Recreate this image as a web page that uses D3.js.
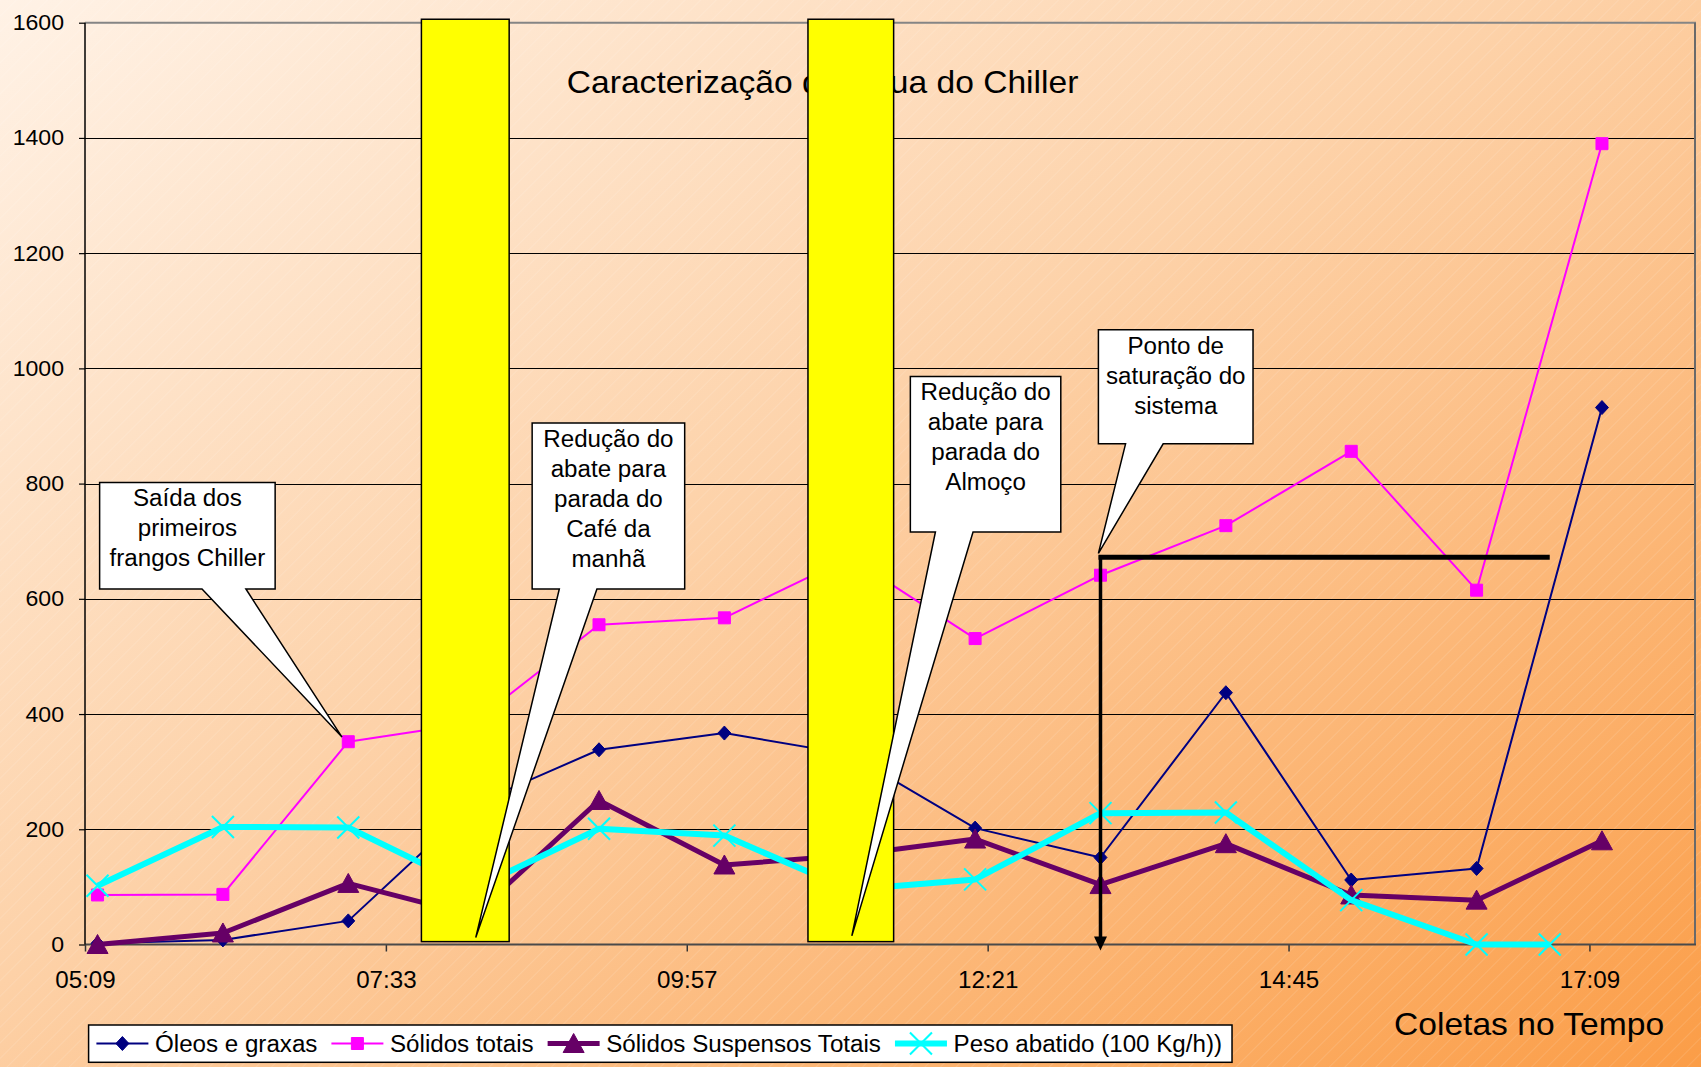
<!DOCTYPE html>
<html>
<head>
<meta charset="utf-8">
<script src="https://cdn.jsdelivr.net/npm/d3@7"></script>
<style>
  html, body { margin: 0; padding: 0; background: #fff; }
  svg { display: block; font-family: "Liberation Sans", Arial, sans-serif; }
</style>
</head>
<body>
<svg id="chart" width="1701" height="1067"></svg>
<script>
// ---- Data -----------------------------------------------------------------
// Hourly collections of chiller water
const sampleTimes = ["05:15","06:15","07:15","08:15","09:15","10:15","11:15",
                     "12:15","13:15","14:15","15:15","16:15","17:15"];
const oleosGraxas      = [2, 8, 41, 243, 338, 367, 330, 202, 151, 437, 112, 132, 932];
const solidosTotais    = [86, 87, 352, 385, 555, 567, 672, 531, 641, 727, 856, 615, 1390];
const solidosSuspensos = [0, 20, 106, 50, 250, 138, 155, 183, 104, 175, 86, 77, 180];

// Slaughter weight (100 kg/h) has its own last reading time
const pesoTimes   = ["05:15","06:15","07:15","08:15","09:15","10:15","11:15",
                     "12:15","13:15","14:15","15:15","16:15","16:50"];
const pesoAbatido = [102, 204, 203, 97, 201, 189, 95, 113, 228, 229, 77, 0, 0];

const seriesNames = ["Óleos e graxas", "Sólidos totais",
                     "Sólidos Suspensos Totais", "Peso abatido (100 Kg/h))"];

// Axes
const yTickValues = [0, 200, 400, 600, 800, 1000, 1200, 1400, 1600];
const xTickLabels = ["05:09", "07:33", "09:57", "12:21", "14:45", "17:09"];
const xDomain = ["05:09", "18:00"];
const yDomain = [0, 1600];

// Production stops (highlighted intervals)
const pauseStarts = ["07:50", "10:55"];
const pauseEnds   = ["08:32", "11:36"];

// Saturation marker: time, level and end of the horizontal reference
const saturationTime = "13:15";
const saturationLevel = 672;
const saturationEnd = "16:50";

const chartTitle = "Caracterização da Água do Chiller";
const titleCenterTime = "11:02";
const xAxisTitle = "Coletas no Tempo";

// Callouts: text lines plus anchors in chart units (time, value)
const callouts = [
  { lines: ["Saída dos", "primeiros", "frangos Chiller"],
    box: ["05:16", "06:40", 802, 617], base: ["06:05", "06:26"], tip: ["07:12", 360] },
  { lines: ["Redução do", "abate para", "parada do", "Café da", "manhã"],
    box: ["08:43", "09:56", 905, 617], base: ["08:56", "09:14"], tip: ["08:16", 12] },
  { lines: ["Redução do", "abate para", "parada do", "Almoço"],
    box: ["11:44", "12:56", 986, 716], base: ["11:56", "12:14"], tip: ["11:16", 15] },
  { lines: ["Ponto de", "saturação do", "sistema"],
    box: ["13:14", "14:28", 1067, 869], base: ["13:27", "13:45"], tip: ["13:14", 679] }
];

// ---- Helpers --------------------------------------------------------------
const toMin = s => { const [h, m] = s.split(":").map(Number); return h * 60 + m; };
const fmt = m => String(Math.floor(m / 60)).padStart(2, "0") + ":" + String(Math.round(m % 60)).padStart(2, "0");
const SX = 1.05; // slight horizontal widening of the type

const svg = d3.select("#chart");
const W = 1701, H = 1067;
const plot = { left: 85, right: 1696, top: 22.7, bottom: 944.5 };

const x = d3.scaleLinear().domain(xDomain.map(toMin)).range([plot.left, plot.right]);
const y = d3.scaleLinear().domain(yDomain).range([plot.bottom, plot.top]);

// ---- Background -----------------------------------------------------------
const defs = svg.append("defs");
const grad = defs.append("linearGradient").attr("id", "bg")
  .attr("x1", 0).attr("y1", 0).attr("x2", 1).attr("y2", 1);
grad.append("stop").attr("offset", 0).attr("stop-color", "#fff2e6");
grad.append("stop").attr("offset", 0.45).attr("stop-color", "#fdd2a9");
grad.append("stop").attr("offset", 1).attr("stop-color", "#fb9d47");

const hatch = defs.append("pattern").attr("id", "hatch")
  .attr("width", 11).attr("height", 11)
  .attr("patternUnits", "userSpaceOnUse")
  .attr("patternTransform", "rotate(45)");
hatch.append("line").attr("x1", 0).attr("y1", 0).attr("x2", 0).attr("y2", 11)
  .attr("stroke", "#fff").attr("stroke-width", 0.8).attr("stroke-opacity", 0.3);

svg.append("rect").attr("width", W).attr("height", H).attr("fill", "url(#bg)");
svg.append("rect").attr("width", W).attr("height", H).attr("fill", "url(#hatch)");

// ---- Gridlines & frame ----------------------------------------------------
const grid = svg.append("g");
grid.selectAll("line").data(yTickValues.filter(v => v > 0 && v < yDomain[1])).join("line")
  .attr("x1", plot.left).attr("x2", plot.right)
  .attr("y1", d => Math.round(y(d)) + 0.5).attr("y2", d => Math.round(y(d)) + 0.5)
  .attr("stroke", "#000").attr("stroke-width", 1.2);

// top edge (1600) and right edge of the plot area
svg.append("line").attr("x1", plot.left).attr("x2", plot.right)
  .attr("y1", y(yDomain[1])).attr("y2", y(yDomain[1]))
  .attr("stroke", "#858585").attr("stroke-width", 2);
svg.append("line").attr("x1", plot.right - 1).attr("x2", plot.right - 1)
  .attr("y1", plot.top).attr("y2", plot.bottom)
  .attr("stroke", "#6a6a6a").attr("stroke-width", 2);

// ---- Axes -----------------------------------------------------------------
const yAxis = d3.axisLeft(y).tickValues(yTickValues).tickSize(6).tickPadding(14)
  .tickFormat(d3.format("d"));
const gy = svg.append("g").attr("transform", `translate(${plot.left},0)`).call(yAxis);
gy.select(".domain").remove();
gy.selectAll(".tick line").attr("stroke", "#000").attr("stroke-width", 1.2);
gy.selectAll(".tick text").attr("font-size", 22).attr("fill", "#000")
  .attr("font-family", "Liberation Sans, Arial, sans-serif")
  .attr("transform", `scale(${SX},1)`);

const xAxis = d3.axisBottom(x).tickValues(xTickLabels.map(toMin)).tickSize(7).tickPadding(20)
  .tickFormat(fmt);
const gx = svg.append("g").attr("transform", `translate(0,${plot.bottom})`).call(xAxis);
gx.select(".domain").remove();
gx.selectAll(".tick line").attr("stroke", "#333").attr("stroke-width", 1.5);
gx.selectAll(".tick text").attr("font-size", 23).attr("fill", "#000")
  .attr("font-family", "Liberation Sans, Arial, sans-serif")
  .attr("transform", `scale(${SX},1)`);

// axis lines
svg.append("line").attr("x1", plot.left).attr("x2", plot.right)
  .attr("y1", plot.bottom).attr("y2", plot.bottom)
  .attr("stroke", "#4a4a4a").attr("stroke-width", 2);
svg.append("line").attr("x1", plot.left).attr("x2", plot.left)
  .attr("y1", plot.top).attr("y2", plot.bottom)
  .attr("stroke", "#000").attr("stroke-width", 1.5);

// ---- Series ---------------------------------------------------------------
const markerPath = {
  diamond: "M0,-7L6.5,0L0,7L-6.5,0Z",
  square: "M-6,-6H6V6H-6Z",
  triangle: "M0,-10L10.5,9L-10.5,9Z",
  cross: "M-11,-11L11,11M-11,11L11,-11"
};

const series = [
  { name: seriesNames[0], times: sampleTimes, values: oleosGraxas,
    color: "#000080", width: 2, marker: "diamond" },
  { name: seriesNames[1], times: sampleTimes, values: solidosTotais,
    color: "#ff00ff", width: 2, marker: "square" },
  { name: seriesNames[2], times: sampleTimes, values: solidosSuspensos,
    color: "#660066", width: 5, marker: "triangle" },
  { name: seriesNames[3], times: pesoTimes, values: pesoAbatido,
    color: "#00ffff", width: 6, marker: "cross" }
];

function drawMarker(g, s, cx, cy) {
  const p = g.append("path").attr("d", markerPath[s.marker])
    .attr("transform", `translate(${cx},${cy})`);
  if (s.marker === "cross") {
    p.attr("fill", "none").attr("stroke", s.color).attr("stroke-width", 2);
  } else {
    p.attr("fill", s.color).attr("stroke", s.color).attr("stroke-width", 1);
  }
}

const line = d3.line().x(d => x(toMin(d.t))).y(d => y(d.v));
series.forEach(s => {
  const pts = s.times.map((t, i) => ({ t, v: s.values[i] }));
  const g = svg.append("g");
  g.append("path").datum(pts).attr("d", line)
    .attr("fill", "none").attr("stroke", s.color).attr("stroke-width", s.width)
    .attr("stroke-linejoin", "round");
  pts.forEach(d => drawMarker(g, s, x(toMin(d.t)), y(d.v)));
});

// ---- Title ----------------------------------------------------------------
svg.append("text")
  .attr("transform", `translate(${x(toMin(titleCenterTime))},93.3) scale(${SX},1)`)
  .attr("text-anchor", "middle").attr("font-size", 32).attr("fill", "#000")
  .text(chartTitle);

// ---- Production stop bars -------------------------------------------------
svg.append("g").selectAll("rect").data(pauseStarts.map((s, i) => [s, pauseEnds[i]])).join("rect")
  .attr("x", d => x(toMin(d[0])))
  .attr("width", d => x(toMin(d[1])) - x(toMin(d[0])))
  .attr("y", y(1606))
  .attr("height", y(5) - y(1606))
  .attr("fill", "#ffff00").attr("stroke", "#000").attr("stroke-width", 1.5);

// ---- Saturation reference -------------------------------------------------
const sx = x(toMin(saturationTime)), sy = y(saturationLevel);
svg.append("line").attr("x1", sx - 2).attr("x2", x(toMin(saturationEnd)))
  .attr("y1", sy).attr("y2", sy).attr("stroke", "#000").attr("stroke-width", 5);
svg.append("line").attr("x1", sx).attr("x2", sx)
  .attr("y1", sy - 2).attr("y2", y(0) - 6)
  .attr("stroke", "#000").attr("stroke-width", 3.5);
svg.append("path")
  .attr("d", `M${sx - 6.5},${y(0) - 8}L${sx + 6.5},${y(0) - 8}L${sx},${y(0) + 6}Z`)
  .attr("fill", "#000");

// ---- Callouts -------------------------------------------------------------
callouts.forEach(c => {
  const L = x(toMin(c.box[0])), R = x(toMin(c.box[1]));
  const T = y(c.box[2]), B = y(c.box[3]);
  const b1 = x(toMin(c.base[0])), b2 = x(toMin(c.base[1]));
  const tx = x(toMin(c.tip[0])), ty = y(c.tip[1]);
  const g = svg.append("g");
  g.append("path")
    .attr("d", `M${L},${T}H${R}V${B}H${b2}L${tx},${ty}L${b1},${B}H${L}Z`)
    .attr("fill", "#fff").attr("stroke", "#000").attr("stroke-width", 1.5)
    .attr("stroke-linejoin", "miter");
  c.lines.forEach((t, i) => {
    g.append("text")
      .attr("transform", `translate(${(L + R) / 2},${T + 24 + i * 30}) scale(${SX},1)`)
      .attr("text-anchor", "middle").attr("font-size", 23).attr("fill", "#000")
      .text(t);
  });
});

// ---- Axis title -----------------------------------------------------------
svg.append("text")
  .attr("transform", `translate(1394,1035) scale(${SX},1)`)
  .attr("font-size", 32).attr("fill", "#000")
  .text(xAxisTitle);

// ---- Legend ---------------------------------------------------------------
const legend = svg.append("g");
const legBox = legend.append("rect")
  .attr("x", 88.6).attr("y", 1025).attr("height", 37.3)
  .attr("fill", "#fff").attr("stroke", "#000").attr("stroke-width", 1.5);
let lx = 96.4;
const ly = 1043.5;
series.forEach(s => {
  legend.append("line").attr("x1", lx).attr("x2", lx + 52).attr("y1", ly).attr("y2", ly)
    .attr("stroke", s.color).attr("stroke-width", s.width);
  drawMarker(legend, s, lx + 26, ly);
  const t = legend.append("text")
    .attr("transform", `translate(${lx + 58.6},1051.5) scale(${SX},1)`)
    .attr("font-size", 23).attr("fill", "#000").text(s.name);
  lx = lx + 58.6 + t.node().getComputedTextLength() * SX + 14;
});
legBox.attr("width", lx - 14 + 10 - 88.6);
</script>
</body>
</html>
